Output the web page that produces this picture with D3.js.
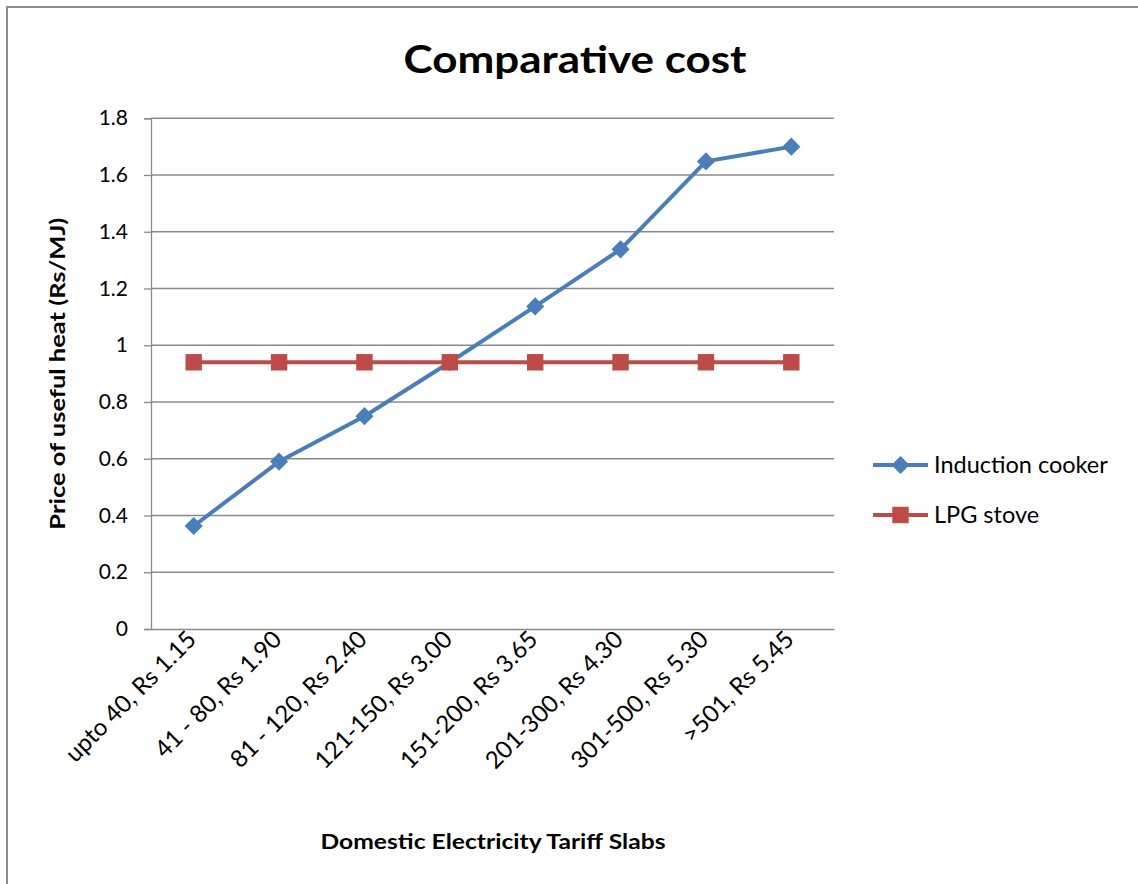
<!DOCTYPE html>
<html>
<head>
<meta charset="utf-8">
<script src="https://cdn.jsdelivr.net/npm/d3@7"></script>
<style>
  body { margin: 0; background: #fff; }
  text { font-family: Lato, "Open Sans", sans-serif; fill: #000; }
</style>
</head>
<body>
<svg id="chart" width="1138" height="884"></svg>
<script>
// data
const slabs = ["upto 40, Rs 1.15", "41 - 80, Rs 1.90", "81 - 120, Rs 2.40", "121-150, Rs 3.00",
               "151-200, Rs 3.65", "201-300, Rs 4.30", "301-500, Rs 5.30", ">501, Rs 5.45"];
const induction = [0.363, 0.59, 0.75, 0.94, 1.137, 1.338, 1.648, 1.70];
const lpg = [0.94, 0.94, 0.94, 0.94, 0.94, 0.94, 0.94, 0.94];
const yTicks = [0, 0.2, 0.4, 0.6, 0.8, 1, 1.2, 1.4, 1.6, 1.8];

const series = [
    { name: "Induction cooker", values: induction, color: "#4a7ebb", shape: d3.symbolDiamond2, size: 210 },
    { name: "LPG stove", values: lpg, color: "#be4b48", shape: d3.symbolSquare, size: 270 }
];

const svg = d3.select("#chart");

// outer frame
svg.append("rect")
    .attr("x", 7).attr("y", 7).attr("width", 1200).attr("height", 1000)
    .attr("fill", "none").attr("stroke", "#8c8c8c").attr("stroke-width", 2);

const plotL = 151, plotR = 834, plotT = 118.25, plotB = 629;

const x = d3.scaleBand().domain(slabs).range([plotL, plotR]);
const y = d3.scaleLinear().domain([0, 1.8]).range([plotB, plotT]);
const cx = d => x(d) + x.bandwidth() / 2;

// gridlines
svg.append("g")
    .selectAll("line")
    .data(yTicks.filter(d => d > 0))
    .join("line")
    .attr("x1", plotL).attr("x2", plotR)
    .attr("y1", d => y(d)).attr("y2", d => y(d))
    .attr("stroke", "#8a8a8a").attr("stroke-width", 1.3);

// y axis
const yAxis = svg.append("g")
    .attr("transform", `translate(${plotL},0)`)
    .call(d3.axisLeft(y).tickValues(yTicks).tickSize(7).tickPadding(16).tickFormat(d3.format("")));
yAxis.select(".domain").attr("stroke", "#8a8a8a").attr("stroke-width", 1.3);
yAxis.selectAll(".tick line").attr("stroke", "#8a8a8a").attr("stroke-width", 1.3);
yAxis.selectAll(".tick text").attr("font-size", 21).attr("font-family", "Lato, sans-serif").attr("fill", "#222");

// x axis
const xAxis = svg.append("g")
    .attr("transform", `translate(0,${plotB})`)
    .call(d3.axisBottom(x).tickSize(0).tickFormat(""));
xAxis.select(".domain").attr("stroke", "#8a8a8a").attr("stroke-width", 1.3);

// rotated category labels
svg.append("g")
    .selectAll("text")
    .data(slabs)
    .join("text")
    .attr("transform", d => `translate(${cx(d) + 4},${plotB + 12}) rotate(-45)`)
    .attr("text-anchor", "end")
    .attr("font-size", 24)
    .attr("fill", "#222")
    .text(d => d);

// series lines and markers
const line = d3.line()
    .x((d, i) => cx(slabs[i]))
    .y(d => y(d));

series.forEach(s => {
    svg.append("path")
        .datum(s.values)
        .attr("d", line)
        .attr("fill", "none")
        .attr("stroke", s.color)
        .attr("stroke-width", 4)
        .attr("stroke-linejoin", "round");

    svg.append("g")
        .selectAll("path")
        .data(s.values)
        .join("path")
        .attr("transform", (d, i) => `translate(${cx(slabs[i])},${y(d)})`)
        .attr("d", d3.symbol().type(s.shape).size(s.size))
        .attr("fill", s.color);
});

// title
svg.append("text")
    .attr("x", 575).attr("y", 73)
    .attr("text-anchor", "middle")
    .attr("font-size", 38).attr("font-weight", "bold")
    .attr("textLength", 343).attr("lengthAdjust", "spacingAndGlyphs")
    .text("Comparative cost");

// axis titles
svg.append("text")
    .attr("transform", `translate(65,${(plotT + plotB) / 2}) rotate(-90)`)
    .attr("text-anchor", "middle")
    .attr("font-size", 20).attr("font-weight", "bold")
    .attr("textLength", 312).attr("lengthAdjust", "spacingAndGlyphs")
    .text("Price of useful heat (Rs/MJ)");

svg.append("text")
    .attr("x", 493).attr("y", 849)
    .attr("text-anchor", "middle")
    .attr("font-size", 20).attr("font-weight", "bold")
    .attr("textLength", 345).attr("lengthAdjust", "spacingAndGlyphs")
    .text("Domestic Electricity Tariff Slabs");

// legend
const legend = svg.append("g")
    .selectAll("g")
    .data(series)
    .join("g")
    .attr("transform", (d, i) => `translate(873,${465 + i * 50})`);

legend.append("line")
    .attr("x1", 0).attr("x2", 55)
    .attr("stroke", d => d.color).attr("stroke-width", 4);
legend.append("path")
    .attr("transform", "translate(27.5,0)")
    .attr("d", d => d3.symbol().type(d.shape).size(d.size)())
    .attr("fill", d => d.color);
legend.append("text")
    .attr("x", 61).attr("y", 8)
    .attr("font-size", 23.5)
    .attr("fill", "#222")
    .text(d => d.name);
</script>
</body>
</html>
